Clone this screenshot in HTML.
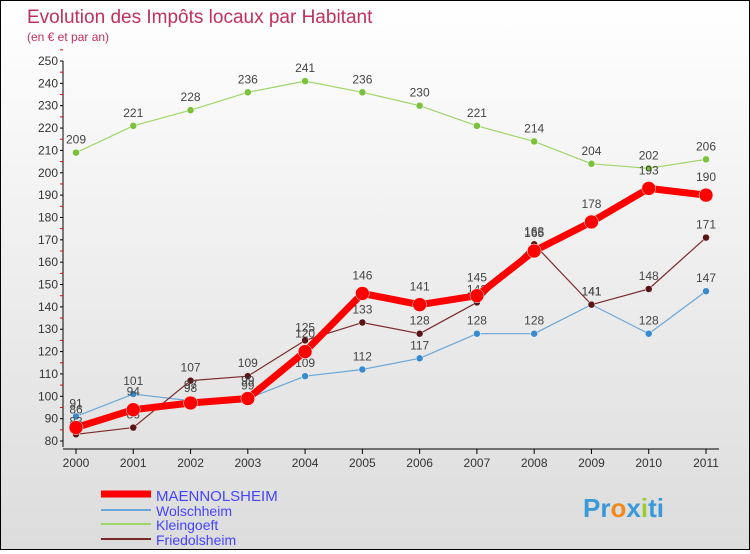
<!DOCTYPE html>
<html><head><meta charset="utf-8"><style>
body{margin:0;width:750px;height:550px;overflow:hidden;font-family:"Liberation Sans",sans-serif}
#wrap{position:relative;width:748px;height:548px;border:1px solid #000;background:linear-gradient(#fff,#dcdcdc)}
</style></head><body>
<div id="wrap">
<svg id="chart" width="748" height="548" style="font-family:'Liberation Sans',sans-serif">
<text x="26" y="22" font-size="19" fill="#c0305a">Evolution des Impôts locaux par Habitant</text>
<text x="26" y="40" font-size="12" fill="#c0305a">(en € et par an)</text>
<g id="axes"></g><g id="series"></g>
<g>
<line x1="100" y1="493" x2="150" y2="493" stroke="#f00" stroke-width="7"/>
<text x="155" y="500" font-size="15" fill="#44f">MAENNOLSHEIM</text>
<line x1="100" y1="509" x2="150" y2="509" stroke="#6aa6d8" stroke-width="2"/>
<text x="155" y="515" font-size="14" fill="#44f">Wolschheim</text>
<line x1="100" y1="523" x2="150" y2="523" stroke="#9ed66a" stroke-width="2"/>
<text x="155" y="529" font-size="14" fill="#44f">Kleingoeft</text>
<line x1="100" y1="538" x2="150" y2="538" stroke="#7a2a2a" stroke-width="2"/>
<text x="155" y="544" font-size="14" fill="#44f">Friedolsheim</text>
</g>
<text x="582" y="516" font-size="26" font-weight="bold" fill="#3a9ad9">Pr<tspan fill="#f08a1a">o</tspan>x<tspan fill="#9c3">i</tspan>ti</text>
</svg></div>
<script>
const years=[2000,2001,2002,2003,2004,2005,2006,2007,2008,2009,2010,2011];
const yTicks=[80,90,100,110,120,130,140,150,160,170,180,190,200,210,220,230,240,250];
const maennolsheim=[86,94,97,99,120,146,141,145,165,178,193,190];
const wolschheim=[91,101,98,99,109,112,117,128,128,141,128,147];
const kleingoeft=[209,221,228,236,241,236,230,221,214,204,202,206];
const friedolsheim=[83,86,107,109,125,133,128,142,168,141,148,171];
const NS="http://www.w3.org/2000/svg";
const X=i=>75+i*(630/11);
const Y=v=>440-(v-80)*(380/170);
function mk(tag,attrs,parent){const e=document.createElementNS(NS,tag);for(const k in attrs)e.setAttribute(k,attrs[k]);parent.appendChild(e);return e;}
const ax=document.getElementById('axes');
let a=mk('line',{x1:62,y1:60,x2:62,y2:446,stroke:'#000'},ax);


a=mk('line',{x1:62,y1:448,x2:718,y2:448,stroke:'#000'},ax);


yTicks.forEach(v=>{
 const t=mk('text',{x:57,y:Y(v)+4,'font-size':12,'text-anchor':'end',fill:'#333'},ax);t.textContent=v;
 
 
 mk('line',{x1:59,y1:Y(v),x2:62,y2:Y(v),stroke:'#000'},ax);
 mk('line',{x1:59,y1:Y(v+5),x2:62,y2:Y(v+5),stroke:'#e00'},ax);
});
years.forEach((y,i)=>{
 mk('line',{x1:X(i),y1:448,x2:X(i),y2:453,stroke:'#000'},ax);
 const t=mk('text',{x:X(i),y:466,'font-size':12,'text-anchor':'middle',fill:'#333'},ax);t.textContent=y;
 
 
});
const sg=document.getElementById('series');
function series(data,name,color,dot,w,r,dy){
 const g=mk('g',{},sg);
 
 
 const p=mk('polyline',{points:data.map((v,i)=>X(i)+','+Y(v)).join(' '),fill:'none',stroke:color,'stroke-width':w,'stroke-linejoin':'round'},g);
 
 
 data.forEach((v,i)=>{
  const c=mk('circle',{cx:X(i),cy:Y(v),r:r,fill:dot,stroke:'#fff','stroke-width':0.5},g);
  
  
  const t=mk('text',{x:X(i),y:Y(v)+dy,'font-size':12,'text-anchor':'middle',fill:'#444'},g);t.textContent=v;
  
  
 });
}
series(kleingoeft,'kleingoeft','#9ed66a','#7ac23a',1.2,3.5,-9);
series(wolschheim,'wolschheim','#6aa6d8','#3a8ad0',1.2,3.5,-9);
series(friedolsheim,'friedolsheim','#7a2a2a','#5a1515',1.2,3.5,-9);
series(maennolsheim,'maennolsheim','#f00','#f00',7,7,-14);
</script>
</body></html>
